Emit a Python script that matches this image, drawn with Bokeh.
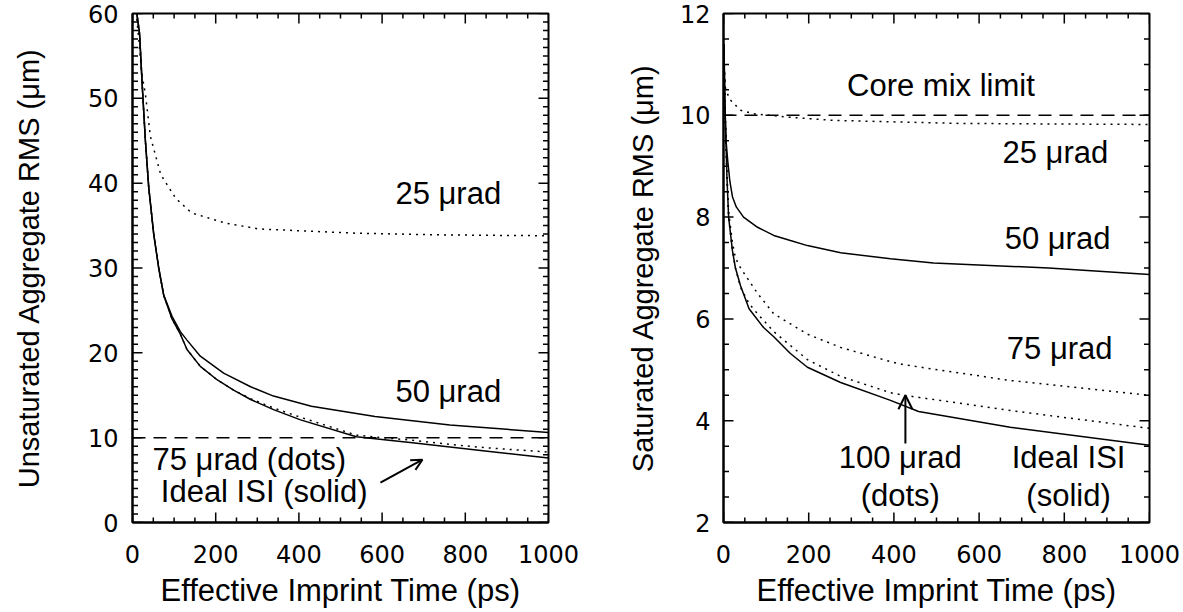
import numpy as np
from bokeh.plotting import figure
from bokeh.layouts import row
from bokeh.models import (Span, Label, Arrow, OpenHead, Range1d, SingleIntervalTicker)
from bokeh.embed import file_html
from bokeh.resources import INLINE

# ---------------- data: left panel (unsaturated) ----------------
L_ideal_t = [5, 17, 24, 31, 39, 51, 63, 75, 95, 115, 131, 163, 204, 243, 284, 339, 404, 538, 673, 853, 1000]
L_ideal_y = [62, 57.6, 51, 45, 39.5, 34, 30, 26.8, 24.0, 22.2, 20.4, 18.4, 16.8, 15.6, 14.5, 13.3, 12.1, 10.1, 9.4, 8.4, 7.6]
L_75_t = [5, 17, 24, 31, 39, 51, 63, 75, 95, 115, 131, 163, 204, 243, 284, 339, 404, 538, 600, 673, 763, 853, 1000]
L_75_y = [62, 57.6, 51, 45, 39.5, 34, 30, 26.8, 24.0, 22.2, 20.4, 18.4, 16.8, 15.6, 14.6, 13.5, 12.4, 10.3, 10.0, 9.7, 9.2, 8.8, 8.3]
L_50_t = [5, 17, 24, 31, 39, 51, 63, 75, 95, 115, 131, 163, 219, 284, 339, 430, 583, 763, 1000]
L_50_y = [62, 57.6, 51, 45, 39.5, 34, 30, 26.8, 24.3, 22.5, 21.5, 19.6, 17.6, 16.0, 14.9, 13.7, 12.5, 11.5, 10.6]
L_25_t = [7, 15, 22, 31, 43, 68, 104, 142, 223, 304, 538, 745, 1000]
L_25_y = [61, 57, 53, 50.5, 45.5, 41, 38.2, 36.5, 35.3, 34.6, 34.1, 33.9, 33.8]
L_limit = 10

# ---------------- data: right panel (saturated) ----------------
R_ideal_t = [1, 4, 8, 12, 21, 28, 40, 60, 94, 118, 157, 197, 275, 392, 458, 673, 1000]
R_ideal_y = [11.4, 10.0, 8.8, 8.0, 7.34, 7.0, 6.65, 6.2, 5.83, 5.65, 5.32, 5.05, 4.75, 4.4, 4.18, 3.87, 3.52]
R_100_t = [1, 4, 8, 12, 21, 28, 40, 60, 80, 118, 197, 275, 392, 423, 673, 1000]
R_100_y = [11.4, 10.0, 8.8, 8.0, 7.34, 7.0, 6.62, 6.3, 6.1, 5.75, 5.2, 4.87, 4.55, 4.5, 4.2, 3.85]
R_75_t = [1, 4, 8, 12, 21, 28, 40, 80, 118, 197, 275, 392, 423, 673, 1000]
R_75_y = [11.4, 10.0, 8.9, 8.1, 7.5, 7.2, 7.0, 6.5, 6.1, 5.7, 5.44, 5.16, 5.1, 4.79, 4.5]
R_50_t = [1, 3, 6, 10, 15, 21, 30, 47, 80, 118, 157, 197, 275, 392, 493, 763, 1000]
R_50_y = [11.4, 10.3, 9.5, 9.1, 8.7, 8.4, 8.2, 8.0, 7.8, 7.64, 7.54, 7.44, 7.3, 7.18, 7.1, 7.0, 6.87]
R_25_t = [0, 5, 16, 40, 70, 157, 258, 556, 1000]
R_25_y = [11.1, 10.5, 10.3, 10.1, 10.03, 9.96, 9.9, 9.84, 9.82]
R_limit = 10

# axes
X_RANGE = (0, 1000)
X_MAJOR, X_MINOR = 200, 50
L_Y_RANGE, L_Y_MAJOR, L_Y_MINOR = (0, 60), 10, 1
R_Y_RANGE, R_Y_MAJOR, R_Y_MINOR = (2, 12), 2, 0.5

X_LABEL = "Effective Imprint Time (ps)"
L_YLABEL = "Unsaturated Aggregate RMS (μm)"
R_YLABEL = "Saturated Aggregate RMS (μm)"

TXT_FONT = "Liberation Sans"
TICK_FONT = "DejaVu Sans"
ANN_SIZE = "31px"
XTITLE_SIZE = "31px"
YTITLE_SIZE = "29px"
TICK_SIZE = "24px"

DOT = "2 5"
DASH = "13 8"


def style_axis(ax):
    ax.major_tick_in = 0
    ax.major_tick_out = 0
    ax.minor_tick_in = 0
    ax.minor_tick_out = 0
    ax.axis_line_width = 2
    ax.axis_line_color = "black"
    ax.major_label_text_font = TICK_FONT
    ax.major_label_text_font_size = TICK_SIZE
    ax.major_label_text_color = "black"
    ax.axis_label_text_font = TXT_FONT
    ax.axis_label_text_font_style = "normal"
    ax.axis_label_text_color = "black"


def inner_ticks(p, xr, yr, xmaj, xmin, ymaj, ymin):
    xs_major = np.arange(xr[0], xr[1] + 1e-9, xmaj)
    xs_minor = np.array([v for v in np.arange(xr[0], xr[1] + 1e-9, xmin)
                         if abs((v - xr[0]) / xmaj - round((v - xr[0]) / xmaj)) > 1e-6])
    ys_major = np.arange(yr[0], yr[1] + 1e-9, ymaj)
    ys_minor = np.array([v for v in np.arange(yr[0], yr[1] + 1e-9, ymin)
                         if abs((v - yr[0]) / ymaj - round((v - yr[0]) / ymaj)) > 1e-6])
    for xs, sz in ((xs_major, 20), (xs_minor, 10)):
        for yy in yr:
            p.scatter(xs, [yy] * len(xs), marker="dash", size=sz, angle=np.pi / 2,
                      line_color="black", line_width=1.5)
    for ys, sz in ((ys_major, 20), (ys_minor, 11)):
        for xx in xr:
            p.scatter([xx] * len(ys), ys, marker="dash", size=sz, angle=0,
                      line_color="black", line_width=1.5)


def make_fig(width, height, yr, ymaj, ymin, bl, br, bt, bb, ylab, ystand, ylabstand):
    p = figure(width=width, height=height, x_range=Range1d(*X_RANGE), y_range=Range1d(*yr),
               output_backend="svg", toolbar_location=None,
               min_border_left=bl, min_border_right=br, min_border_top=bt, min_border_bottom=bb)
    p.xgrid.visible = False
    p.ygrid.visible = False
    p.outline_line_color = "black"
    p.outline_line_width = 2
    p.background_fill_color = "white"
    p.border_fill_color = "white"
    p.xaxis.ticker = SingleIntervalTicker(interval=X_MAJOR)
    p.yaxis.ticker = SingleIntervalTicker(interval=ymaj)
    p.xaxis.axis_label = X_LABEL
    p.yaxis.axis_label = ylab
    for ax in p.xaxis:
        style_axis(ax)
        ax.axis_label_text_font_size = XTITLE_SIZE
        ax.major_label_standoff = 22
        ax.axis_label_standoff = 7
    for ax in p.yaxis:
        style_axis(ax)
        ax.axis_label_text_font_size = YTITLE_SIZE
        ax.major_label_standoff = ystand
        ax.axis_label_standoff = ylabstand
    inner_ticks(p, X_RANGE, yr, X_MAJOR, X_MINOR, ymaj, ymin)
    return p


def add_label(p, x, y, text, align="left"):
    p.add_layout(Label(x=x, y=y, text=text, text_align=align, text_baseline="middle",
                       text_font=TXT_FONT, text_font_size=ANN_SIZE, text_color="black"))


H = 610
# ---------------- left panel ----------------
pL = make_fig(590, H, L_Y_RANGE, L_Y_MAJOR, L_Y_MINOR, 132, 42, 13, H - 522, L_YLABEL, 14, 40)
pL.add_layout(Span(location=L_limit, dimension="width", line_color="black",
                   line_width=1.5, line_dash=DASH))
pL.line(L_ideal_t, L_ideal_y, line_color="black", line_width=1.5)
pL.line(L_75_t, L_75_y, line_color="black", line_width=1.5, line_dash=DOT)
pL.line(L_50_t, L_50_y, line_color="black", line_width=1.5)
pL.line(L_25_t, L_25_y, line_color="black", line_width=1.5, line_dash=DOT)
add_label(pL, 632, 38.8, "25 μrad")
add_label(pL, 632, 15.4, "50 μrad")
add_label(pL, 48, 7.4, "75 μrad (dots)")
add_label(pL, 68, 3.6, "Ideal ISI (solid)")
pL.add_layout(Arrow(x_start=596, y_start=4.7, x_end=697, y_end=7.4,
                    line_color="black", line_width=2,
                    end=OpenHead(size=11, line_color="black", line_width=2)))

# ---------------- right panel ----------------
pR = make_fig(590, H, R_Y_RANGE, R_Y_MAJOR, R_Y_MINOR, 133, 31, 13, H - 522, R_YLABEL, 13, 18)
pR.add_layout(Span(location=R_limit, dimension="width", line_color="black",
                   line_width=1.5, line_dash=DASH))
pR.line(R_ideal_t, R_ideal_y, line_color="black", line_width=1.5)
pR.line(R_100_t, R_100_y, line_color="black", line_width=1.5, line_dash=DOT)
pR.line(R_75_t, R_75_y, line_color="black", line_width=1.5, line_dash=DOT)
pR.line(R_50_t, R_50_y, line_color="black", line_width=1.5)
pR.line(R_25_t, R_25_y, line_color="black", line_width=1.5, line_dash=DOT)
add_label(pR, 290, 10.59, "Core mix limit")
add_label(pR, 655, 9.27, "25 μrad")
add_label(pR, 660, 7.58, "50 μrad")
add_label(pR, 665, 5.42, "75 μrad")
add_label(pR, 415, 3.28, "100 μrad", align="center")
add_label(pR, 415, 2.53, "(dots)", align="center")
add_label(pR, 810, 3.28, "Ideal ISI", align="center")
add_label(pR, 810, 2.53, "(solid)", align="center")
pR.add_layout(Arrow(x_start=427, y_start=3.55, x_end=427, y_end=4.5,
                    line_color="black", line_width=2,
                    end=OpenHead(size=14, line_color="black", line_width=2)))

layout = row(pL, pR)
open("out.html", "w").write(file_html(layout, INLINE))
